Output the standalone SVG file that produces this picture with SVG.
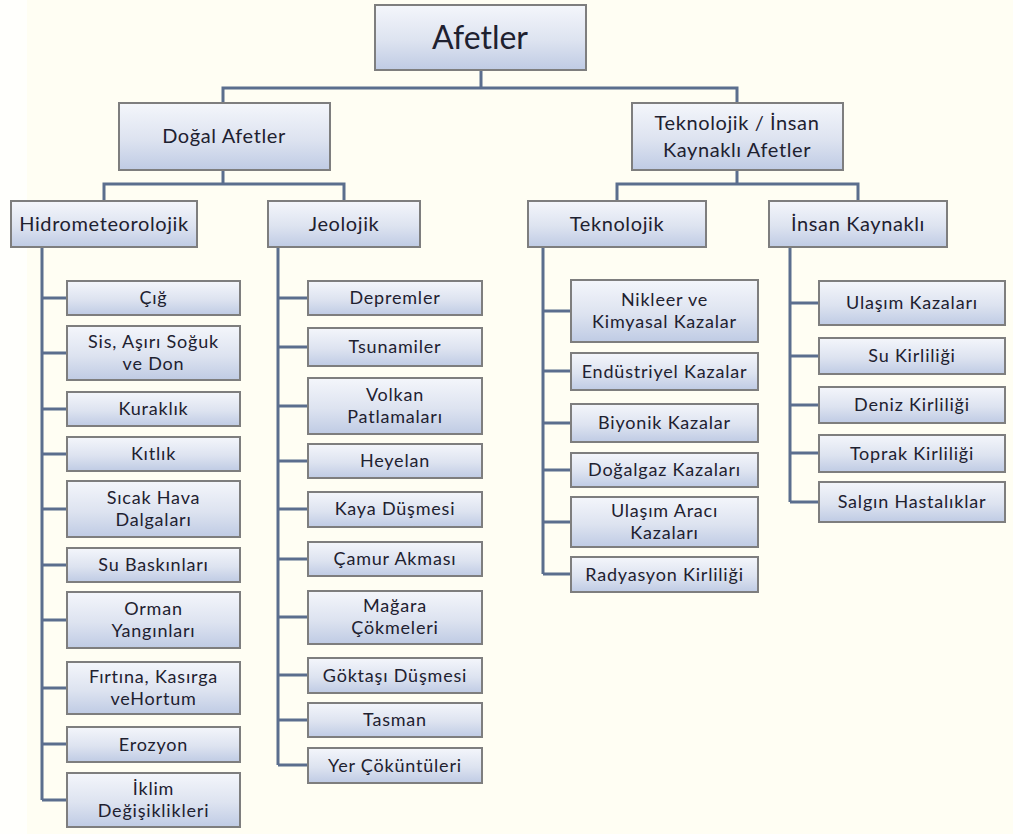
<svg xmlns="http://www.w3.org/2000/svg" width="1013" height="834" viewBox="0 0 1013 834">
<defs>
<linearGradient id="g" x1="0" y1="0" x2="0" y2="1">
<stop offset="0" stop-color="#F4F6FB"/>
<stop offset="0.55" stop-color="#DDE3F0"/>
<stop offset="1" stop-color="#BFCBE4"/>
</linearGradient>
<style>
.box{fill:url(#g);stroke:#7E7E7E;stroke-width:2}
.t{font-family:Lato,"Open Sans","Liberation Sans",sans-serif;fill:#1E2130;text-anchor:middle;font-size:18px;letter-spacing:0.8px}
.r{font-size:32px;letter-spacing:0}
.m{font-size:20px;letter-spacing:0.6px}
.c{fill:none;stroke:#5B6E8E;stroke-width:3}
</style>
</defs>
<rect width="1013" height="834" fill="#FFFEF3"/>
<rect x="0" y="0" width="27" height="834" fill="#FFFFFC"/>
<g id="connectors">
<path class="c" d="M481 70V88M223 103V88H737V103"/>
<path class="c" d="M223 170V184M104 201V184H344V201"/>
<path class="c" d="M737 170V184M617 201V184H858V201"/>
<path class="c" d="M42 247V800M42 298H67M42 353H67M42 409H67M42 454H67M42 509H67M42 565H67M42 620H67M42 688H67M42 744H67M42 800H67"/>
<path class="c" d="M278 247V765M278 298H308M278 347H308M278 406H308M278 461H308M278 509H308M278 559H308M278 617H308M278 675H308M278 720H308M278 765H308"/>
<path class="c" d="M543 247V574M543 311H571M543 371H571M543 423H571M543 470H571M543 522H571M543 574H571"/>
<path class="c" d="M790 247V502M790 303H819M790 356H819M790 405H819M790 453H819M790 502H819"/>
</g>
<g id="afetler"><rect class="box" x="375" y="5" width="211" height="65"/><text class="t r" x="480" y="49">Afetler</text></g>
<g id="dogal"><rect class="box" x="119" y="103" width="211" height="67"/><text class="t m" x="224" y="143">Doğal Afetler</text></g>
<g id="teknolojik-insan"><rect class="box" x="632" y="103" width="211" height="67"/><text class="t m" x="737" y="130">Teknolojik / İnsan</text><text class="t m" x="737" y="157">Kaynaklı Afetler</text></g>
<g id="hidro"><rect class="box" x="11" y="201" width="186" height="46"/><text class="t m" x="104" y="231">Hidrometeorolojik</text></g>
<g id="jeolojik"><rect class="box" x="268" y="201" width="152" height="46"/><text class="t m" x="344" y="231">Jeolojik</text></g>
<g id="teknolojik"><rect class="box" x="528" y="201" width="178" height="46"/><text class="t m" x="617" y="231">Teknolojik</text></g>
<g id="insan"><rect class="box" x="769" y="201" width="178" height="46"/><text class="t m" x="858" y="231">İnsan Kaynaklı</text></g>

<g id="cig"><rect class="box" x="67" y="281" width="173" height="34"/><text class="t" x="153.5" y="304">Çığ</text></g>
<g id="sis"><rect class="box" x="67" y="326" width="173" height="54"/><text class="t" x="153.5" y="348">Sis, Aşırı Soğuk</text><text class="t" x="153.5" y="370">ve Don</text></g>
<g id="kuraklik"><rect class="box" x="67" y="392" width="173" height="34"/><text class="t" x="153.5" y="415">Kuraklık</text></g>
<g id="kitlik"><rect class="box" x="67" y="437" width="173" height="34"/><text class="t" x="153.5" y="460">Kıtlık</text></g>
<g id="sicak"><rect class="box" x="67" y="481" width="173" height="56"/><text class="t" x="153.5" y="504">Sıcak Hava</text><text class="t" x="153.5" y="526">Dalgaları</text></g>
<g id="su-baskinlari"><rect class="box" x="67" y="548" width="173" height="34"/><text class="t" x="153.5" y="571">Su Baskınları</text></g>
<g id="orman"><rect class="box" x="67" y="592" width="173" height="56"/><text class="t" x="153.5" y="615">Orman</text><text class="t" x="153.5" y="637">Yangınları</text></g>
<g id="firtina"><rect class="box" x="67" y="662" width="173" height="52"/><text class="t" x="153.5" y="683">Fırtına, Kasırga</text><text class="t" x="153.5" y="705">veHortum</text></g>
<g id="erozyon"><rect class="box" x="67" y="727" width="173" height="35"/><text class="t" x="153.5" y="751">Erozyon</text></g>
<g id="iklim"><rect class="box" x="67" y="773" width="173" height="54"/><text class="t" x="153.5" y="795">İklim</text><text class="t" x="153.5" y="817">Değişiklikleri</text></g>

<g id="depremler"><rect class="box" x="308" y="281" width="174" height="34"/><text class="t" x="395" y="304">Depremler</text></g>
<g id="tsunamiler"><rect class="box" x="308" y="328" width="174" height="38"/><text class="t" x="395" y="353">Tsunamiler</text></g>
<g id="volkan"><rect class="box" x="308" y="378" width="174" height="56"/><text class="t" x="395" y="401">Volkan</text><text class="t" x="395" y="423">Patlamaları</text></g>
<g id="heyelan"><rect class="box" x="308" y="444" width="174" height="34"/><text class="t" x="395" y="467">Heyelan</text></g>
<g id="kaya"><rect class="box" x="308" y="492" width="174" height="35"/><text class="t" x="395" y="515">Kaya Düşmesi</text></g>
<g id="camur"><rect class="box" x="308" y="542" width="174" height="34"/><text class="t" x="395" y="565">Çamur Akması</text></g>
<g id="magara"><rect class="box" x="308" y="591" width="174" height="53"/><text class="t" x="395" y="612">Mağara</text><text class="t" x="395" y="634">Çökmeleri</text></g>
<g id="goktasi"><rect class="box" x="308" y="658" width="174" height="35"/><text class="t" x="395" y="682">Göktaşı Düşmesi</text></g>
<g id="tasman"><rect class="box" x="308" y="703" width="174" height="34"/><text class="t" x="395" y="726">Tasman</text></g>
<g id="yer"><rect class="box" x="308" y="748" width="174" height="35"/><text class="t" x="395" y="772">Yer Çöküntüleri</text></g>

<g id="nikleer"><rect class="box" x="571" y="280" width="187" height="62"/><text class="t" x="664.5" y="306">Nikleer ve</text><text class="t" x="664.5" y="328">Kimyasal Kazalar</text></g>
<g id="endustriyel"><rect class="box" x="571" y="353" width="187" height="37"/><text class="t" x="664.5" y="378">Endüstriyel Kazalar</text></g>
<g id="biyonik"><rect class="box" x="571" y="404" width="187" height="38"/><text class="t" x="664.5" y="429">Biyonik Kazalar</text></g>
<g id="dogalgaz"><rect class="box" x="571" y="453" width="187" height="34"/><text class="t" x="664.5" y="476">Doğalgaz Kazaları</text></g>
<g id="ulasim-araci"><rect class="box" x="571" y="497" width="187" height="50"/><text class="t" x="664.5" y="517">Ulaşım Aracı</text><text class="t" x="664.5" y="539">Kazaları</text></g>
<g id="radyasyon"><rect class="box" x="571" y="557" width="187" height="35"/><text class="t" x="664.5" y="581">Radyasyon Kirliliği</text></g>

<g id="ulasim"><rect class="box" x="819" y="281" width="186" height="44"/><text class="t" x="912" y="309">Ulaşım Kazaları</text></g>
<g id="su-kirliligi"><rect class="box" x="819" y="338" width="186" height="36"/><text class="t" x="912" y="362">Su Kirliliği</text></g>
<g id="deniz"><rect class="box" x="819" y="387" width="186" height="36"/><text class="t" x="912" y="411">Deniz Kirliliği</text></g>
<g id="toprak"><rect class="box" x="819" y="435" width="186" height="37"/><text class="t" x="912" y="460">Toprak Kirliliği</text></g>
<g id="salgin"><rect class="box" x="819" y="482" width="186" height="40"/><text class="t" x="912" y="508">Salgın Hastalıklar</text></g>
</svg>
